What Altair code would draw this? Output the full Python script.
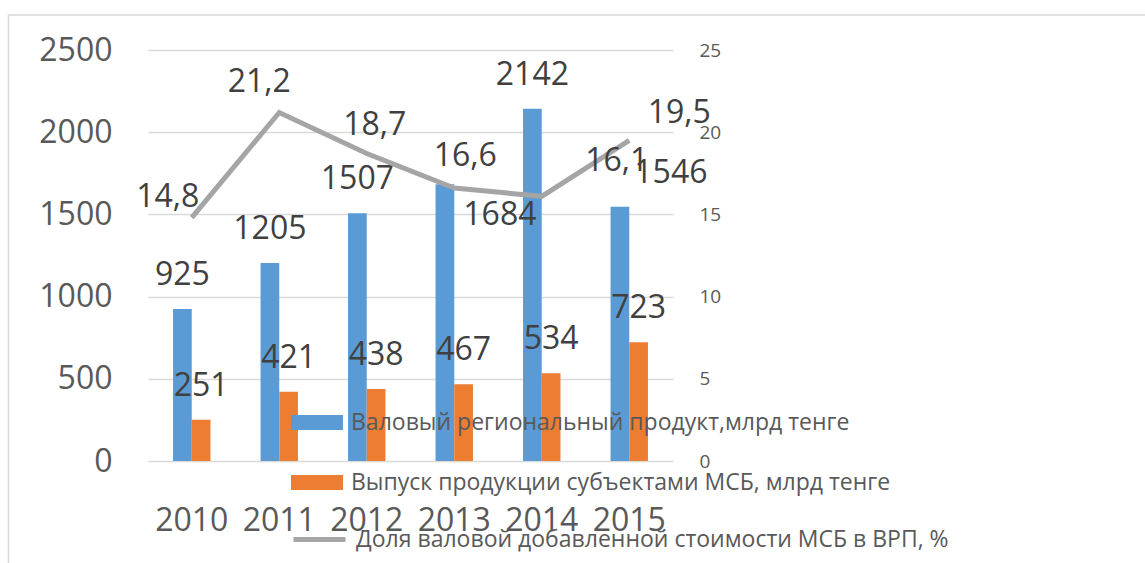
import altair as alt
import pandas as pd

years = ["2010", "2011", "2012", "2013", "2014", "2015"]
grp = [925, 1205, 1507, 1684, 2142, 1546]
sme = [251, 421, 438, 467, 534, 723]
share = [14.8, 21.2, 18.7, 16.6, 16.1, 19.5]

S1 = "Валовый региональный продукт,млрд тенге"
S2 = "Выпуск продукции субъектами МСБ, млрд тенге"
S3 = "Доля валовой добавленной стоимости МСБ в ВРП, %"

bar_df = pd.DataFrame(
    {"year": years * 2, "series": [S1] * 6 + [S2] * 6, "value": grp + sme}
)
line_df = pd.DataFrame({"year": years, "share": share, "series": [S3] * 6})

# label nudges (style, as in the original layout)
bar_label_nudge = {(S1, "2013"): (55, 31), (S1, "2015"): (51, -34)}
default_bar_nudge = (0, -34)
line_label_nudge = {
    "2010": (-24, -21), "2011": (-20, -30), "2012": (8, -29),
    "2013": (11, -32), "2014": (75, -35), "2015": (50, -27),
}

FONT = "Open Sans"
AXIS_COLOR = "#595959"
LABEL_COLOR = "#404040"
GRID = "#d9d9d9"

X = alt.X(
    "year:N", sort=years,
    scale=alt.Scale(paddingInner=0.5725, paddingOuter=0.28625),
    axis=alt.Axis(title=None, labelFontSize=32, labelColor=AXIS_COLOR, labelPadding=44,
                  ticks=False, domain=False, labelAngle=0, grid=False),
)
XO = alt.XOffset("series:N", sort=[S1, S2], scale=alt.Scale(paddingInner=0, paddingOuter=0))
YL = alt.Y(
    "value:Q", scale=alt.Scale(domain=[0, 2500], nice=False),
    axis=alt.Axis(title=None, values=[0, 500, 1000, 1500, 2000, 2500], format="d", grid=True,
                  gridColor=GRID, gridWidth=1.3, ticks=False, domain=False, labelFontSize=32,
                  labelPadding=36, labelColor=AXIS_COLOR),
)
YR = alt.Y(
    "share:Q", scale=alt.Scale(domain=[0, 25], nice=False),
    axis=alt.Axis(title=None, orient="right", values=[0, 5, 10, 15, 20, 25], grid=False,
                  ticks=False, domain=False, labelFontSize=19, labelPadding=26,
                  labelColor=AXIS_COLOR),
)

LEG_FS = 23

bars = alt.Chart(bar_df).mark_bar().encode(
    x=X, xOffset=XO, y=YL,
    color=alt.Color(
        "series:N", sort=[S1, S2],
        scale=alt.Scale(domain=[S1, S2], range=["#5b9bd5", "#ed7d31"]),
        legend=alt.Legend(title=None, orient="none", legendX=143, legendY=346.5,
                          direction="vertical", symbolType="M-1,-0.29H1V0.29H-1Z",
                          symbolSize=2704, symbolStrokeWidth=0, symbolOpacity=1,
                          labelFontSize=LEG_FS, labelColor=AXIS_COLOR, labelOffset=8,
                          labelLimit=1000, rowPadding=22, padding=0),
    ),
)

bar_texts = []
for s in [S1, S2]:
    for y in years:
        dx, dy = bar_label_nudge.get((s, y), default_bar_nudge)
        bar_texts.append(
            alt.Chart(bar_df)
            .transform_filter((alt.datum.series == s) & (alt.datum.year == y))
            .mark_text(fontSize=32, color=LABEL_COLOR, dx=dx, dy=dy, baseline="middle")
            .encode(x=X, xOffset=XO, y=YL, text=alt.Text("value:Q"))
        )

line = alt.Chart(line_df).mark_line(strokeWidth=5).encode(
    x=X, y=YR,
    stroke=alt.Stroke(
        "series:N", scale=alt.Scale(domain=[S3], range=["#a5a5a5"]),
        legend=alt.Legend(title=None, orient="none", legendX=143, legendY=461,
                          symbolType="stroke", symbolSize=2704, symbolStrokeWidth=5,
                          labelFontSize=LEG_FS, labelColor=AXIS_COLOR, labelOffset=8,
                          labelLimit=1000, padding=0),
    ),
)

line_texts = []
for y in years:
    dx, dy = line_label_nudge[y]
    line_texts.append(
        alt.Chart(line_df)
        .transform_filter(alt.datum.year == y)
        .transform_calculate(lab="replace(format(datum.share, '.1f'), '.', ',')")
        .mark_text(fontSize=32, color=LABEL_COLOR, dx=dx, dy=dy, baseline="middle")
        .encode(x=X, y=YR, text=alt.Text("lab:N"))
    )

border = alt.Chart(pd.DataFrame({"a": [0]})).mark_rect(
    filled=False, stroke=GRID, strokeWidth=1.5
).encode(x=alt.value(-139.5), x2=alt.value(1200), y=alt.value(-35), y2=alt.value(700))

bar_layer = alt.layer(bars, *bar_texts)
line_layer = alt.layer(line, *line_texts)

chart = (
    alt.layer(border, bar_layer, line_layer)
    .resolve_scale(y="independent")
    .properties(
        width=525, height=411,
        autosize=alt.AutoSizeParams(type="none"),
        padding={"left": 148, "top": 50, "right": 472, "bottom": 102},
    )
    .configure(font=FONT)
    .configure_view(stroke="transparent")
)

chart.save("out.html", embed_options={"renderer": "svg", "actions": False})
